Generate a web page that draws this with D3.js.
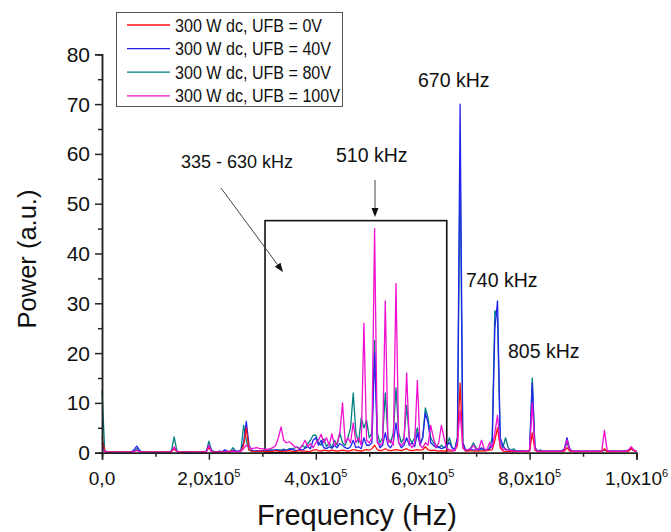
<!DOCTYPE html>
<html>
<head>
<meta charset="utf-8">
<script src="https://cdn.jsdelivr.net/npm/d3@7/dist/d3.min.js"></script>
<style>
  html, body { margin: 0; padding: 0; background: #fff; }
  svg { display: block; }
  text { font-family: Arial, "Liberation Sans", sans-serif; fill: #111; }
</style>
</head>
<body>
<svg id="chart" width="671" height="532"></svg>
<script>
// Spectrum samples every 5 kHz, 0 .. 1000 kHz (201 points)
const freqStepHz = 5000;
const freqMaxHz = 1000000;

const seriesNames = [
  "300 W dc, UFB = 0V",
  "300 W dc, UFB = 40V",
  "300 W dc, UFB = 80V",
  "300 W dc, UFB = 100V"
];
const seriesColors = ["#ff1010", "#2323f0", "#008080", "#f010d0"];

// Power (a.u.), one row per 100 kHz
const power0V = [
  3.2,0.3,0.1,0.1,0.1,0.1,0.1,0.1,0.1,0.1,0.1,0.1,0.2,0.5,0.2,0.1,0.1,0.1,0.1,0.1,
  0.1,0.1,0.1,0.1,0.1,0.1,0.2,0.8,0.2,0.1,0.1,0.1,0.1,0.1,0.1,0.1,0.1,0.1,0.1,0.2,
  1.0,0.2,0.1,0.1,0.1,0.2,0.1,0.2,0.3,0.3,0.2,0.2,0.3,1.5,5.0,0.6,0.3,0.2,0.2,0.3,
  0.3,0.2,0.3,0.2,0.3,0.4,0.3,0.2,0.3,0.3,0.4,0.3,0.2,0.3,0.4,0.3,0.3,0.2,0.3,0.5,
  0.6,0.4,0.3,0.5,0.4,0.3,0.5,0.4,0.3,0.4,0.5,0.4,0.3,0.4,0.6,0.5,0.4,0.3,0.5,0.6,
  0.5,0.8,1.5,0.6,0.4,0.5,0.8,0.5,0.4,0.5,0.6,0.5,0.4,0.6,0.8,0.5,0.4,0.5,0.6,0.5,
  0.6,1.2,0.6,0.4,0.5,0.4,0.3,0.4,0.3,0.4,0.3,0.3,0.4,1.5,14.0,1.0,0.3,0.3,0.4,0.3,
  0.3,0.3,0.4,0.3,0.4,0.5,0.6,2.5,5.0,1.0,0.3,0.2,0.2,0.2,0.2,0.2,0.2,0.3,0.2,0.2,
  0.3,4.0,0.5,0.2,0.2,0.2,0.2,0.2,0.2,0.2,0.2,0.2,0.2,0.3,1.0,0.3,0.2,0.2,0.2,0.2,
  0.2,0.2,0.2,0.2,0.2,0.2,0.2,0.2,0.8,0.2,0.2,0.2,0.2,0.2,0.2,0.2,0.2,0.3,0.8,0.4,
  0.2
];
const power40V = [
  2.0,0.2,0.1,0.1,0.1,0.1,0.1,0.1,0.1,0.1,0.1,0.2,0.6,1.3,0.5,0.1,0.1,0.1,0.1,0.1,
  0.1,0.1,0.1,0.1,0.1,0.1,0.3,1.0,0.3,0.1,0.1,0.1,0.2,0.1,0.1,0.1,0.1,0.2,0.1,0.3,
  1.5,0.4,0.2,0.2,0.3,0.2,0.6,0.3,0.2,0.5,0.3,0.3,0.5,2.0,6.3,1.5,0.5,0.3,0.4,0.3,
  0.4,0.3,0.5,0.3,0.4,0.6,0.4,0.3,0.5,0.4,0.6,0.8,0.5,0.4,0.7,0.5,0.9,1.2,0.8,2.5,
  3.0,1.5,2.5,1.0,0.8,1.2,0.9,1.5,1.0,1.8,1.5,1.0,0.8,1.2,2.5,1.0,1.2,0.8,3.0,1.5,
  1.5,2.0,20.0,2.5,1.0,1.5,4.0,1.5,1.0,2.0,6.0,2.0,1.0,1.5,3.0,1.5,2.0,1.2,4.0,1.5,
  3.0,8.0,6.0,2.0,1.5,1.0,1.2,0.8,1.0,1.5,2.0,1.0,0.6,3.0,70.0,2.0,0.6,0.5,0.8,0.5,
  0.6,0.5,1.0,0.6,0.5,0.8,1.5,25.0,30.5,3.0,1.5,0.6,0.5,0.4,0.3,0.3,0.3,0.4,0.3,0.3,
  0.5,14.0,1.0,0.3,0.3,0.3,0.3,0.3,0.3,0.3,0.3,0.3,0.4,0.8,3.0,0.8,0.3,0.3,0.3,0.3,
  0.3,0.3,0.3,0.3,0.3,0.3,0.3,0.3,0.6,0.3,0.3,0.3,0.3,0.3,0.3,0.3,0.4,0.5,1.0,0.5,
  0.3
];
const power80V = [
  12.5,0.5,0.1,0.1,0.1,0.1,0.1,0.1,0.1,0.1,0.1,0.1,0.3,0.8,0.3,0.1,0.1,0.1,0.1,0.1,
  0.1,0.1,0.1,0.1,0.1,0.1,0.4,3.2,0.4,0.1,0.1,0.1,0.1,0.1,0.1,0.1,0.1,0.1,0.1,0.2,
  2.3,0.4,0.2,0.1,0.2,0.2,0.4,0.2,0.2,1.0,0.3,0.2,0.5,5.5,2.5,0.5,0.3,0.2,0.3,0.2,
  0.3,0.5,0.4,0.6,0.5,0.4,0.6,0.5,0.7,0.5,0.8,0.6,0.9,1.2,0.8,1.5,1.0,1.8,2.5,3.5,
  3.5,2.0,1.5,2.8,1.2,2.0,1.0,2.5,1.5,4.0,2.0,1.5,3.0,5.0,12.0,4.0,2.0,7.0,5.0,6.5,
  3.0,4.0,22.5,4.0,2.0,3.0,12.0,3.0,2.0,4.0,13.0,4.0,2.0,3.0,9.5,3.0,2.0,3.0,5.0,2.0,
  3.0,9.0,7.0,3.0,2.0,1.5,1.0,1.5,1.0,1.2,3.0,1.0,0.6,3.0,58.0,2.0,0.6,0.5,1.0,2.0,
  1.0,0.6,0.8,0.5,0.6,0.8,3.0,28.5,27.0,2.0,1.0,3.0,1.0,0.5,0.8,0.4,0.3,0.4,0.3,0.3,
  0.5,15.0,1.0,0.3,0.6,0.3,0.3,0.3,0.3,0.3,0.3,0.3,0.3,0.6,2.0,0.5,0.3,0.3,0.3,0.3,
  0.3,0.3,0.3,0.3,0.3,0.3,0.3,0.3,0.5,0.3,0.3,0.3,0.3,0.3,0.3,0.3,0.3,0.4,0.8,0.4,
  0.3
];
const power100V = [
  1.0,0.2,0.1,0.1,0.1,0.1,0.1,0.1,0.1,0.1,0.1,0.1,0.2,0.5,0.2,0.1,0.1,0.1,0.1,0.1,
  0.1,0.1,0.1,0.1,0.1,0.1,0.2,1.2,0.2,0.1,0.1,0.1,0.1,0.1,0.1,0.1,0.1,0.1,0.1,0.1,
  1.5,0.2,0.1,0.1,0.1,0.1,0.2,0.1,0.1,0.3,0.2,0.2,0.3,0.8,1.5,1.2,0.8,0.9,1.0,0.8,
  0.8,0.6,0.7,0.8,1.0,1.5,3.0,5.2,2.5,2.0,2.2,1.8,1.2,1.0,0.8,1.5,2.5,1.2,1.8,1.0,
  2.0,2.5,3.7,2.0,3.0,1.5,3.8,1.5,2.0,4.0,10.0,2.0,3.0,2.0,6.0,2.0,3.0,1.5,26.0,2.5,
  2.0,3.0,45.0,2.0,1.5,2.0,30.5,2.0,2.5,1.5,34.0,2.0,1.5,2.0,16.0,2.0,1.0,2.0,14.5,1.5,
  1.0,2.0,1.5,5.5,3.0,1.0,2.0,5.5,3.0,0.8,0.6,0.5,0.4,2.0,8.5,1.0,0.5,0.6,0.8,1.5,
  0.6,0.8,2.5,0.8,0.5,2.0,1.0,4.0,7.5,1.5,0.6,0.8,0.5,0.4,0.4,0.3,0.3,0.3,0.3,0.3,
  0.4,10.0,0.8,0.3,0.3,0.3,0.3,0.3,0.3,0.3,0.3,0.3,0.3,0.6,2.5,0.6,0.3,0.3,0.3,0.3,
  0.3,0.3,0.3,0.3,0.3,0.3,0.3,0.3,4.5,0.5,0.3,0.3,0.3,0.3,0.3,0.3,0.3,0.5,1.2,0.5,
  0.3
];

// Axis ticks
const xTickValues = [0, 200000, 400000, 600000, 800000, 1000000];
const xTickBase = ["0,0", "2,0x10", "4,0x10", "6,0x10", "8,0x10", "1,0x10"];
const xTickExp = ["", "5", "5", "5", "5", "6"];
const xMinorTicks = [100000, 300000, 500000, 700000, 900000];
const yTickValues = [0, 10, 20, 30, 40, 50, 60, 70, 80];
const yMinorTicks = [5, 15, 25, 35, 45, 55, 65, 75];

// Highlighted band (Hz) and its height (a.u.)
const bandRange = [305000, 645000];
const bandTop = 46.6;

// Peak annotation labels
const peakLabels = ["670 kHz", "740 kHz", "805 kHz", "510 kHz", "335 - 630 kHz"];

const svg = d3.select("#chart");

const x = d3.scaleLinear().domain([0, freqMaxHz]).range([102, 636.5]);
const y = d3.scaleLinear().domain([0, 80]).range([452.7, 54.3]);

const freqs = d3.range(0, freqMaxHz + 1, freqStepHz);
const allSeries = [power0V, power40V, power80V, power100V];

// Band rectangle
svg.append("rect")
  .attr("x", x(bandRange[0]))
  .attr("y", y(bandTop))
  .attr("width", x(bandRange[1]) - x(bandRange[0]))
  .attr("height", y(0) - y(bandTop))
  .attr("fill", "none")
  .attr("stroke", "#111")
  .attr("stroke-width", 1.6);

// Spectra (drawn teal, blue, red, magenta so the strong peaks stay visible)
const line = d3.line()
  .x((d, i) => x(freqs[i]))
  .y(d => y(d));

const drawOrder = [2, 1, 0, 3];
drawOrder.forEach(k => {
  svg.append("path")
    .datum(allSeries[k])
    .attr("d", line)
    .attr("fill", "none")
    .attr("stroke", seriesColors[k])
    .attr("stroke-width", 1.3)
    .attr("stroke-linejoin", "round");
});

// X axis
svg.append("g")
  .attr("transform", `translate(0,${y(0)})`)
  .call(d3.axisBottom(x).tickValues(xTickValues).tickSize(7).tickFormat(""));
svg.append("g")
  .attr("transform", `translate(0,${y(0)})`)
  .call(d3.axisBottom(x).tickValues(xMinorTicks).tickSize(4).tickFormat(""));

// Y axis
svg.append("g")
  .attr("transform", `translate(${x(0)},0)`)
  .call(d3.axisLeft(y).tickValues(yTickValues).tickSize(7).tickFormat(""));
svg.append("g")
  .attr("transform", `translate(${x(0)},0)`)
  .call(d3.axisLeft(y).tickValues(yMinorTicks).tickSize(4).tickFormat(""));

svg.selectAll(".domain").attr("stroke", "#222").attr("stroke-width", 1.5);
svg.selectAll(".tick line").attr("stroke", "#222").attr("stroke-width", 1.5);

// X tick labels with exponent superscripts
xTickValues.forEach((v, i) => {
  const t = svg.append("text")
    .attr("x", x(v))
    .attr("y", 485)
    .attr("text-anchor", "middle")
    .attr("font-size", 19);
  t.append("tspan").text(xTickBase[i]);
  if (xTickExp[i]) {
    t.append("tspan")
      .attr("font-size", 11)
      .attr("dy", -8)
      .text(xTickExp[i]);
  }
});

// Y tick labels
yTickValues.forEach(v => {
  svg.append("text")
    .attr("x", 90)
    .attr("y", y(v))
    .attr("dy", "0.36em")
    .attr("text-anchor", "end")
    .attr("font-size", 21)
    .text(v);
});

// Axis titles
svg.append("text")
  .attr("x", 357)
  .attr("y", 525)
  .attr("text-anchor", "middle")
  .attr("font-size", 29)
  .text("Frequency (Hz)");

svg.append("text")
  .attr("transform", "translate(36,259) rotate(-90)")
  .attr("text-anchor", "middle")
  .attr("font-size", 25.5)
  .text("Power (a.u.)");

// Annotations
const annot = svg.append("g").attr("font-size", 19.5);
annot.append("text").attr("x", 418).attr("y", 87).text(peakLabels[0]);
annot.append("text").attr("x", 466).attr("y", 287).text(peakLabels[1]);
annot.append("text").attr("x", 508).attr("y", 358).text(peakLabels[2]);
annot.append("text").attr("x", 336).attr("y", 162).text(peakLabels[3]);
annot.append("text").attr("x", 181).attr("y", 168).attr("font-size", 18).text(peakLabels[4]);

function arrow(x1, y1, x2, y2) {
  const ang = Math.atan2(y2 - y1, x2 - x1);
  const len = 9, half = 3.5;
  const bx = x2 - len * Math.cos(ang), by = y2 - len * Math.sin(ang);
  svg.append("line")
    .attr("x1", x1).attr("y1", y1).attr("x2", bx).attr("y2", by)
    .attr("stroke", "#444").attr("stroke-width", 1);
  const px = -Math.sin(ang) * half, py = Math.cos(ang) * half;
  svg.append("path")
    .attr("d", `M${x2},${y2}L${bx + px},${by + py}L${bx - px},${by - py}Z`)
    .attr("fill", "#111");
}
arrow(375, 180, 375, 217);
arrow(221, 188, 283, 272);

// Legend
const legend = svg.append("g");
legend.append("rect")
  .attr("x", 116.5).attr("y", 12.5)
  .attr("width", 226).attr("height", 94)
  .attr("fill", "#fff")
  .attr("stroke", "#555")
  .attr("stroke-width", 1);
seriesNames.forEach((name, i) => {
  const ly = 25 + i * 23.6;
  legend.append("line")
    .attr("x1", 127).attr("x2", 170)
    .attr("y1", ly).attr("y2", ly)
    .attr("stroke", seriesColors[i])
    .attr("stroke-width", 1.3);
  // legend labels are set slightly condensed
  legend.append("text")
    .attr("transform", `translate(175,${ly + 6.5}) scale(0.87,1)`)
    .attr("font-size", 18.5)
    .text(name);
});
</script>
</body>
</html>
